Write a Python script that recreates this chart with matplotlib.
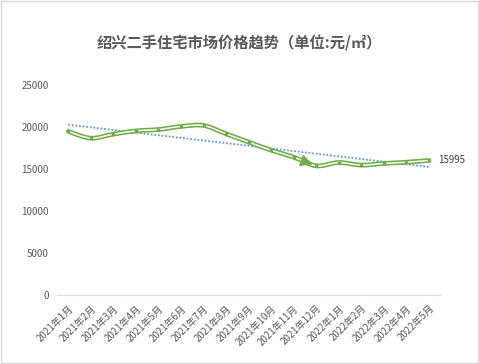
import matplotlib.pyplot as plt
import numpy as np
from matplotlib.path import Path
from matplotlib.patches import PathPatch

plt.rcParams["font.family"] = ["Noto Sans CJK SC", "DejaVu Sans"]

months = ["2021年1月", "2021年2月", "2021年3月", "2021年4月", "2021年5月", "2021年6月",
          "2021年7月", "2021年8月", "2021年9月", "2021年10月", "2021年11月", "2021年12月",
          "2022年1月", "2022年2月", "2022年3月", "2022年4月", "2022年5月"]
prices = [19450, 18650, 19130, 19520, 19680, 20040, 20160, 19170, 18180,
          17220, 16390, 15360, 15750, 15440, 15640, 15790, 15995]
yticks = [0, 5000, 10000, 15000, 20000, 25000]

green = "#70AD47"
gray = "#595959"


def smooth_path(xs, ys):
    # Excel-like smoothed line drawn as cubic Bezier segments through the points
    pts = np.column_stack([xs, ys]).astype(float)
    n = len(pts)
    verts = [pts[0]]
    codes = [Path.MOVETO]
    for i in range(n - 1):
        p0 = pts[i - 1] if i > 0 else pts[i]
        p1, p2 = pts[i], pts[i + 1]
        p3 = pts[i + 2] if i + 2 < n else pts[i + 1]
        c1 = p1 + (p2 - p0) / 6
        c2 = p2 - (p3 - p1) / 6
        verts += [c1, c2, p2]
        codes += [Path.CURVE4] * 3
    return Path(verts, codes)


fig = plt.figure(figsize=(4.79, 3.64), dpi=100)
ax = fig.add_axes([0.119, 0.19, 0.80, 0.577])

x = np.arange(len(months))
path = smooth_path(x, prices)
# double (compound) line: thick green with a thin white core
ax.add_patch(PathPatch(path, fill=False, edgecolor=green, lw=3.4, capstyle="round", zorder=3))
ax.add_patch(PathPatch(path, fill=False, edgecolor="white", lw=1.1, zorder=4))
ax.plot(x, prices, "s", color=green, ms=2, zorder=5)

# linear trend line
k, b = np.polyfit(x, prices, 1)
ax.plot(x, k * x + b, color="#5B9BD5", lw=1.3, ls=(0, (1, 1)), zorder=2)

# arrow head near the 2021-12 point
ax.annotate("", xy=(x[11] - 0.05, prices[11] + 60), xytext=(x[10] + 0.2, prices[10] - 250),
            arrowprops=dict(arrowstyle="-|>", color=green, lw=0.5, mutation_scale=20), zorder=6)

ax.text(x[-1] + 0.4, prices[-1], str(prices[-1]), fontsize=7, color="#404040",
        va="center", ha="left")

ax.set_xlim(-0.5, len(months) - 0.5)
ax.set_ylim(0, 25000)
ax.set_yticks(yticks)
ax.set_yticklabels([str(v) for v in yticks], fontsize=7, color=gray)
ax.set_xticks(x)
ax.set_xticklabels(months, rotation=45, ha="right", rotation_mode="anchor",
                   fontsize=7, color=gray)
ax.tick_params(length=0, pad=6)
for s in ["top", "right", "left"]:
    ax.spines[s].set_visible(False)
ax.spines["bottom"].set_color("#D9D9D9")

fig.text(0.5, 0.882, "绍兴二手住宅市场价格趋势（单位:元/㎡）", ha="center", va="center",
         fontsize=11, fontweight="bold", color=gray)

fig.patches.append(plt.Rectangle((0.002, 0.002), 0.996, 0.996, transform=fig.transFigure,
                                 fill=False, edgecolor="#D9D9D9", lw=1))

fig.savefig("out.png", dpi=100)
